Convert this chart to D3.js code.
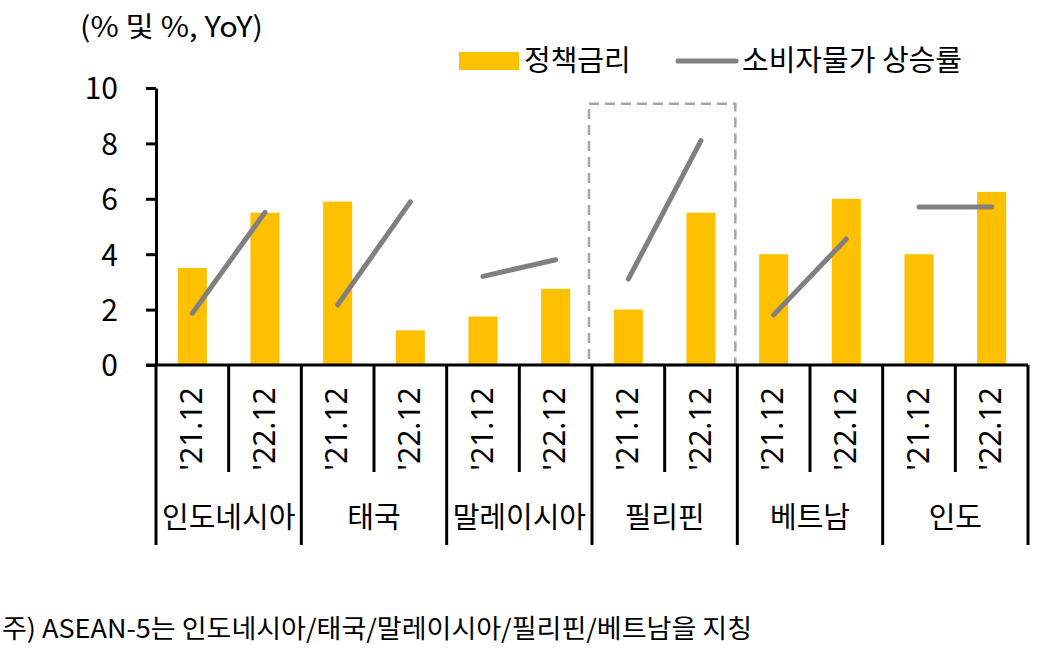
<!DOCTYPE html>
<html>
<head>
<meta charset="utf-8">
<script src="https://cdn.jsdelivr.net/npm/d3@7"></script>
<style>
  html, body { margin: 0; padding: 0; background: #fff; }
  svg { display: block; }
</style>
</head>
<body>
<script>
// chart data
const countries = ["인도네시아", "태국", "말레이시아", "필리핀", "베트남", "인도"];
const periods = ["'21.12", "'22.12"];
const rate2112 = [3.5, 5.9, 1.75, 2.0, 4.0, 4.0];
const rate2212 = [5.5, 1.25, 2.75, 5.5, 6.0, 6.25];
const cpi2112 = [1.87, 2.17, 3.2, 3.1, 1.81, 5.7];
const cpi2212 = [5.51, 5.89, 3.8, 8.1, 4.55, 5.7];
const yTicks = [0, 2, 4, 6, 8, 10];
const highlight = "필리핀";

const width = 1042, height = 649;
const font = "'Noto Sans CJK KR', 'Noto Sans', sans-serif";

const svg = d3.select("body").append("svg")
    .attr("width", width)
    .attr("height", height)
    .style("font-family", font);

// one slot per country/period pair
const slots = [];
countries.forEach((c, i) => periods.forEach((p, j) => slots.push({
    country: c, period: p, key: c + p,
    rate: j === 0 ? rate2112[i] : rate2212[i],
    cpi: j === 0 ? cpi2112[i] : cpi2212[i]
})));

const x = d3.scaleBand()
    .domain(slots.map(d => d.key))
    .range([156, 1028])
    .paddingInner(0);

const y = d3.scaleLinear()
    .domain([0, 10])
    .range([365, 88]);

const barW = x.bandwidth() * 0.4;
const cx = key => x(key) + x.bandwidth() / 2;

// bars
svg.append("g")
    .selectAll("rect")
    .data(slots)
    .join("rect")
    .attr("x", d => cx(d.key) - barW / 2)
    .attr("y", d => y(d.rate))
    .attr("width", barW)
    .attr("height", d => y(0) - y(d.rate))
    .attr("fill", "#FFC000");

// highlight box around one country
const hi = slots.filter(d => d.country === highlight);
svg.append("rect")
    .attr("x", x(hi[0].key) - 3)
    .attr("y", y(9.43))
    .attr("width", x(hi[1].key) + x.bandwidth() - x(hi[0].key) + 1)
    .attr("height", y(0) - y(9.43))
    .attr("fill", "none")
    .attr("stroke", "#A6A6A6")
    .attr("stroke-width", 2.5)
    .attr("stroke-dasharray", "10,6");

// CPI lines, one segment per country
svg.append("g")
    .selectAll("line")
    .data(countries)
    .join("line")
    .attr("x1", c => cx(c + periods[0]))
    .attr("x2", c => cx(c + periods[1]))
    .attr("y1", (c, i) => y(cpi2112[i]))
    .attr("y2", (c, i) => y(cpi2212[i]))
    .attr("stroke", "#808080")
    .attr("stroke-width", 5)
    .attr("stroke-linecap", "round");

// y axis
const yAxis = svg.append("g")
    .attr("transform", "translate(156,0)")
    .call(d3.axisLeft(y).tickValues(yTicks).tickSize(10).tickPadding(28).tickSizeOuter(0));
yAxis.select(".domain").attr("stroke", "#000").attr("stroke-width", 3);
yAxis.selectAll(".tick line").attr("stroke", "#000").attr("stroke-width", 3);
yAxis.selectAll(".tick text")
    .attr("fill", "#000")
    .style("font-family", font)
    .style("font-size", "30px")
    .attr("dy", "0.36em");

// x axis line
svg.append("line")
    .attr("x1", 146).attr("x2", 1028)
    .attr("y1", y(0)).attr("y2", y(0))
    .attr("stroke", "#000").attr("stroke-width", 3);

// separators: short between periods, long between countries
const bounds = d3.range(slots.length + 1).map(i => i < slots.length ? x(slots[i].key) : x.range()[1]);
svg.append("g")
    .selectAll("line")
    .data(bounds)
    .join("line")
    .attr("x1", d => d).attr("x2", d => d)
    .attr("y1", y(0))
    .attr("y2", (d, i) => i % 2 === 0 ? 545 : 472)
    .attr("stroke", "#000")
    .attr("stroke-width", 3);

// period labels (rotated)
svg.append("g")
    .selectAll("text")
    .data(slots)
    .join("text")
    .attr("transform", d => `translate(${cx(d.key) - 1},429) rotate(-90)`)
    .attr("text-anchor", "middle")
    .attr("dy", "0.36em")
    .style("font-size", "30px")
    .style("font-family", "'Noto Sans', sans-serif")
    .attr("fill", "#000")
    .text(d => d.period);

// country labels
svg.append("g")
    .selectAll("text")
    .data(countries)
    .join("text")
    .attr("x", c => (x(c + periods[0]) + x(c + periods[1]) + x.bandwidth()) / 2)
    .attr("y", 518)
    .attr("text-anchor", "middle")
    .attr("dy", "0.36em")
    .style("font-size", "29px")
    .attr("fill", "#000")
    .text(c => c);

// unit title
svg.append("text")
    .attr("x", 80).attr("y", 37)
    .style("font-size", "28px")
    .attr("fill", "#000")
    .attr("textLength", 183)
    .attr("lengthAdjust", "spacingAndGlyphs")
    .text("(% 및 %, YoY)");

// legend
const legend = svg.append("g");
legend.append("rect")
    .attr("x", 459).attr("y", 52).attr("width", 60).attr("height", 18)
    .attr("fill", "#FFC000");
legend.append("text")
    .attr("x", 524).attr("y", 61).attr("dy", "0.36em")
    .style("font-size", "29px").attr("fill", "#000")
    .text("정책금리");
legend.append("line")
    .attr("x1", 678).attr("x2", 736).attr("y1", 61).attr("y2", 61)
    .attr("stroke", "#808080").attr("stroke-width", 5).attr("stroke-linecap", "round");
legend.append("text")
    .attr("x", 742).attr("y", 61).attr("dy", "0.36em")
    .style("font-size", "29px").attr("fill", "#000")
    .text("소비자물가 상승률");

// footnote
svg.append("text")
    .attr("x", 2).attr("y", 629).attr("dy", "0.36em")
    .style("font-size", "26px").attr("fill", "#000")
    .attr("textLength", 750)
    .attr("lengthAdjust", "spacingAndGlyphs")
    .text("주) ASEAN-5는 인도네시아/태국/말레이시아/필리핀/베트남을 지칭");
</script>
</body>
</html>
